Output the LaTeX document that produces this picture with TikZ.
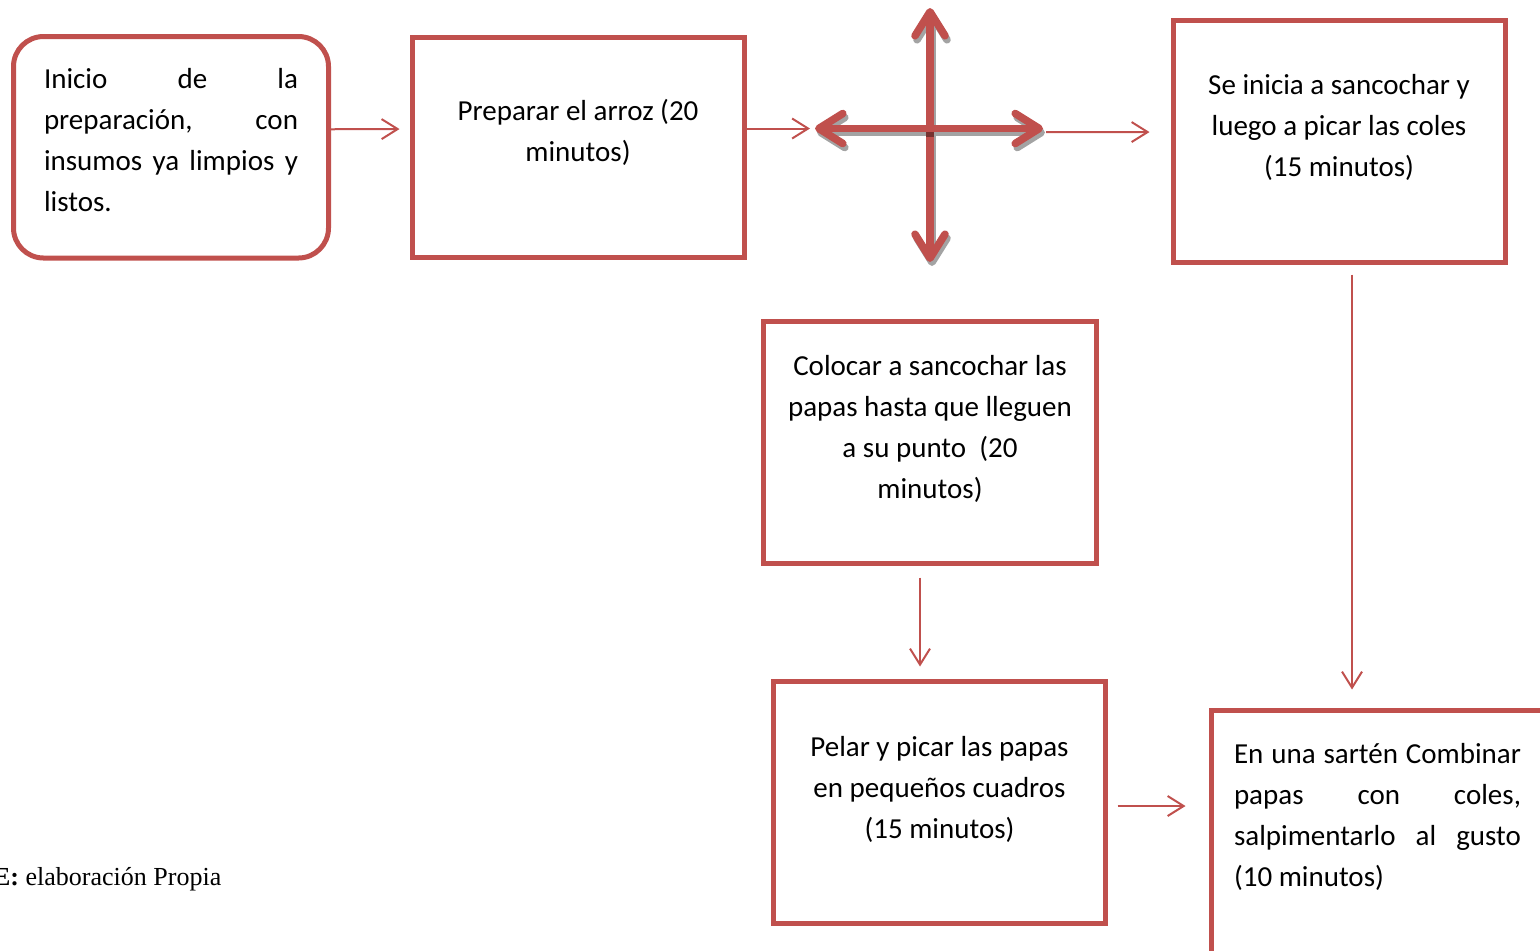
\documentclass[tikz,border=0pt]{standalone}
\usepackage{fontspec}
\setmainfont{Carlito}
\newfontfamily\fuenteserif{Liberation Serif}
\usetikzlibrary{arrows.meta,calc}
\definecolor{rojo}{HTML}{C0504D}
\definecolor{gris}{HTML}{A3A3A3}
\tikzset{caja/.style={draw=rojo,line width=2.5pt,inner sep=0pt,minimum width=166pt,minimum height=121pt}}
\tikzset{texto/.style={anchor=base,text width=160pt,align=flush center,inner sep=0pt,font=\fontsize{14.5pt}{20.5pt}\selectfont}}
\tikzset{flecha/.style={rojo,line width=1pt,-{Straight Barb[length=8pt,width=10pt]}}}
\tikzset{cruz/.style={rojo,line width=3.8pt,{Straight Barb[length=12pt,width=15pt,round]}-{Straight Barb[length=12pt,width=15pt,round]}}}
\tikzset{cruzsombra/.style={cruz,draw=gris,transform canvas={xshift=1pt,yshift=-2pt}}}

\begin{document}
\begin{tikzpicture}[x=0.5pt,y=-0.5pt]
	\useasboundingbox (0,0) rectangle (1540,950);
	\clip (0,0) rectangle (1540,950);

	%% cajas
	\node[caja,rounded corners=15pt,minimum width=157.5pt,minimum height=110.75pt] (inicio) at (171,147.25) {};
	\node[caja,minimum width=165.75pt,minimum height=110pt] (arroz) at (578.25,147) {};
	\node[caja,minimum height=121.25pt] (coles) at (1339,141.25) {};
	\node[caja,minimum width=166.5pt] (papas) at (930,442.5) {};
	\node[caja] (pelar) at (939.5,802) {};
	\node[caja,minimum width=170pt,minimum height=130pt] (sarten) at (1381.5,840) {};

	%% textos
	\node[texto,align=flush left,text width=127pt] (inicio-t) at (171,88)
		{\makebox[127pt][s]{Inicio\hfill de\hfill la}\\
		 \makebox[127pt][s]{preparación,\hfill con}\\
		 \makebox[127pt][s]{insumos\hfill ya\hfill limpios\hfill y}\\
		 listos.};
	\node[texto] (arroz-t) at (578,120) {Preparar el arroz (20\\minutos)};
	\node[texto] (coles-t) at (1339,94.3) {Se inicia a sancochar y\\luego a picar las coles\\(15 minutos)};
	\node[texto] (papas-t) at (930,375) {Colocar a sancochar las\\papas hasta que lleguen\\a su punto~ (20\\minutos)};
	\node[texto] (pelar-t) at (939.5,756) {Pelar y picar las papas\\en pequeños cuadros\\(15 minutos)};
	\node[texto,align=flush left,text width=143.5pt] (sarten-t) at (1377.5,763.3)
		{\makebox[143.5pt][s]{En una sartén Combinar}\\
		 \makebox[143.5pt][s]{papas\hfill con\hfill coles,}\\
		 \makebox[143.5pt][s]{salpimentarlo\hfill al\hfill gusto}\\
		 (10 minutos)};
	\node[anchor=base east,inner sep=0pt,font=\fuenteserif\fontsize{13pt}{15pt}\selectfont] (fuente) at (221.7,885) {\textbf{E:} elaboración Propia};

	%% cruz de flechas
	\coordinate (cruzN) at (930,8);
	\coordinate (cruzS) at (930,262);
	\coordinate (cruzO) at (815,128.5);
	\coordinate (cruzE) at (1043,128.5);
	\draw[cruzsombra] (cruzS) -- (cruzN);
	\draw[cruzsombra] (cruzO) -- (cruzE);
	\draw[cruz] (cruzS) -- (cruzN);
	\fill[rojo!62!black] (926.2,132.3) rectangle (933.8,136.8);
	\draw[cruz] (cruzO) -- (cruzE);

	%% conectores
	\draw[flecha,shorten >=5.25pt] ([yshift=9pt]inicio.east) -- ([yshift=9pt]arroz.west);
	\draw[flecha,shorten >=2.5pt] ([yshift=9.25pt]arroz.east) -- (cruzO);
	\draw[flecha,shorten >=10.5pt] ([xshift=1.5pt,yshift=-1.75pt]cruzE) -- ([yshift=4.6pt]coles.west);
	\draw[flecha,shorten <=4.75pt,shorten >=9pt] ([xshift=6.5pt]coles.south) -- ([xshift=6.5pt]coles.south |- sarten.north);
	\draw[flecha,shorten <=5.75pt,shorten >=6pt] ([xshift=-5pt]papas.south) -- ([xshift=-5pt]papas.south |- pelar.north);
	\draw[flecha,shorten <=4.75pt,shorten >=11.75pt] ([yshift=-2pt]pelar.east) -- ([yshift=-2pt]pelar.east -| sarten.west);
\end{tikzpicture}
\end{document}
